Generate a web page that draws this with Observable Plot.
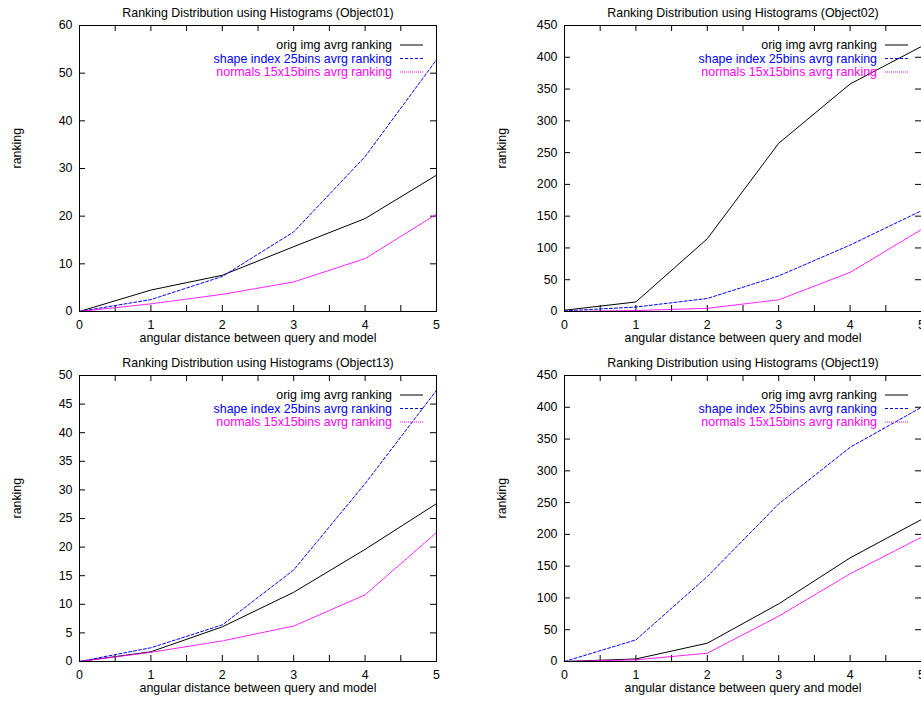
<!DOCTYPE html>
<html><head><meta charset="utf-8">
<script src="https://cdn.jsdelivr.net/npm/d3@7"></script>
<script src="https://cdn.jsdelivr.net/npm/@observablehq/plot@0.6"></script>
<style>
html,body{margin:0;padding:0;background:#fff;}
#wrap{position:relative;width:921px;height:701px;overflow:hidden;background:#fff;}
.panel{position:absolute;}
</style></head><body><div id="wrap"></div>
<script>
// ---- data ----
const distances = [0, 1, 2, 3, 4, 5];
const xTickLabels = [0, 1, 2, 3, 4, 5];
const xMinorTicks = [0, 0.5, 1, 1.5, 2, 2.5, 3, 3.5, 4, 4.5, 5];
const seriesNames = ["orig img avrg ranking", "shape index 25bins avrg ranking", "normals 15x15bins avrg ranking"];
const panelTitles = [
  "Ranking Distribution using Histograms (Object01)",
  "Ranking Distribution using Histograms (Object02)",
  "Ranking Distribution using Histograms (Object13)",
  "Ranking Distribution using Histograms (Object19)"
];
const xLabel = "angular distance between query and model";
const yLabel = "ranking";

const yTicks01 = [0, 10, 20, 30, 40, 50, 60];
const yTicks02 = [0, 50, 100, 150, 200, 250, 300, 350, 400, 450];
const yTicks13 = [0, 5, 10, 15, 20, 25, 30, 35, 40, 45, 50];
const yTicks19 = [0, 50, 100, 150, 200, 250, 300, 350, 400, 450];

const obj01Orig    = [0, 4.5, 7.6, 13.6, 19.5, 28.6];
const obj01Shape   = [0, 2.5, 7.35, 16.7, 32.5, 52.8];
const obj01Normals = [0, 1.6, 3.6, 6.2, 11.1, 20.4];

const obj02Orig    = [2, 15, 114.5, 264.7, 358, 417];
const obj02Shape   = [1, 7, 20.5, 56, 104.5, 158.6];
const obj02Normals = [0, 1.5, 5, 18.4, 61.5, 129];

const obj13Orig    = [0, 1.7, 6.06, 12.1, 19.6, 27.6];
const obj13Shape   = [0, 2.4, 6.4, 16.0, 31.1, 47.4];
const obj13Normals = [0, 1.6, 3.6, 6.2, 11.65, 22.55];

const obj19Orig    = [0, 4, 28.8, 90.7, 163, 223.4];
const obj19Shape   = [0, 34, 133.7, 248, 337, 400];
const obj19Normals = [0, 2.6, 13, 71.3, 138, 195.6];

// ---- styles ----
const seriesColors = ["#000000", "#0000ff", "#ff00ff"];
const seriesDash = [null, "3,2", "1,1"];
const FONT = "'Liberation Sans', Arial, Helvetica, sans-serif";
const FS = 12.4;
const W = 460, H = 350;
const M = {top: 25, right: 24, bottom: 39, left: 79};
const innerW = W - M.left - M.right;
const innerH = H - M.top - M.bottom;

const panels = [
  {title: panelTitles[0], yTicks: yTicks01, series: [obj01Orig, obj01Shape, obj01Normals], left: 0, top: 0},
  {title: panelTitles[1], yTicks: yTicks02, series: [obj02Orig, obj02Shape, obj02Normals], left: 485, top: 0},
  {title: panelTitles[2], yTicks: yTicks13, series: [obj13Orig, obj13Shape, obj13Normals], left: 0, top: 350},
  {title: panelTitles[3], yTicks: yTicks19, series: [obj19Orig, obj19Shape, obj19Normals], left: 485, top: 350}
];

function legendMark(index, scales, values, dims) {
  const right = dims.width - dims.marginRight;
  const g = d3.create("svg:g").attr("font-family", FONT).attr("font-size", FS);
  seriesNames.forEach((name, i) => {
    const y = dims.marginTop + 20 + i * 13.5;
    g.append("text").attr("x", right - 44).attr("y", y).attr("dy", "0.35em")
      .attr("text-anchor", "end").attr("fill", seriesColors[i]).text(name);
    g.append("line").attr("x1", right - 36).attr("x2", right - 13).attr("y1", y).attr("y2", y)
      .attr("stroke", seriesColors[i]).attr("stroke-width", 1)
      .attr("stroke-dasharray", seriesDash[i]);
  });
  return g.node();
}

const wrap = document.getElementById("wrap");
panels.forEach(p => {
  const yMax = p.yTicks[p.yTicks.length - 1];
  const lineMarks = p.series.map((vals, i) =>
    Plot.line(distances.map((d, j) => ({x: d, y: vals[j]})), {
      x: "x", y: "y", stroke: seriesColors[i], strokeWidth: 1,
      strokeDasharray: seriesDash[i] || undefined
    })
  );
  const chart = Plot.plot({
    width: W, height: H,
    marginTop: M.top, marginRight: M.right, marginBottom: M.bottom, marginLeft: M.left,
    style: {fontFamily: FONT, fontSize: FS + "px", color: "#000", background: "white", overflow: "visible"},
    x: {domain: [0, 5]},
    y: {domain: [0, yMax]},
    marks: [
      Plot.axisX({ticks: xTickLabels, tickFormat: d3.format("d"), tickSize: 0, tickPadding: 9, label: null, fontSize: FS}),
      Plot.axisY({ticks: p.yTicks, tickFormat: d3.format("d"), tickSize: 0, tickPadding: 7, label: null, fontSize: FS}),
      Plot.tickX(xMinorTicks, {x: d => d, insetTop: innerH - 6, stroke: "#000"}),
      Plot.tickX(xMinorTicks, {x: d => d, insetBottom: innerH - 6, stroke: "#000"}),
      Plot.tickY(p.yTicks, {y: d => d, insetRight: innerW - 6, stroke: "#000"}),
      Plot.tickY(p.yTicks, {y: d => d, insetLeft: innerW - 6, stroke: "#000"}),
      ...lineMarks,
      Plot.frame({stroke: "#000", strokeWidth: 1}),
      Plot.text([p.title], {text: d => d, frameAnchor: "top", dy: -12.5, lineAnchor: "middle", fontSize: FS}),
      Plot.text([xLabel], {text: d => d, frameAnchor: "bottom", dy: 27, lineAnchor: "middle", fontSize: FS}),
      Plot.text([yLabel], {text: d => d, frameAnchor: "left", dx: -62, rotate: -90, lineAnchor: "middle", fontSize: FS}),
      legendMark
    ]
  });
  chart.classList.add("panel");
  chart.style.left = p.left + "px";
  chart.style.top = p.top + "px";
  wrap.appendChild(chart);
});
</script>
</body></html>
